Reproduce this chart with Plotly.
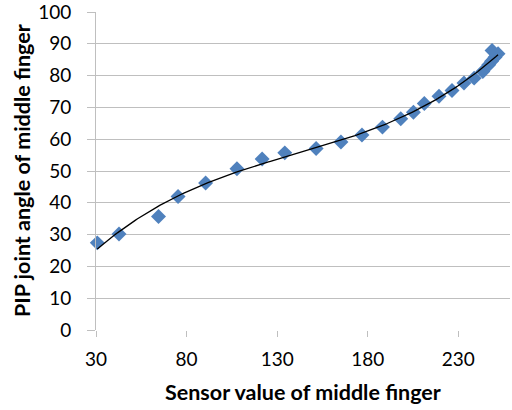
import numpy as np
import plotly.graph_objects as go

sensor = [30.7, 42.7, 64.5, 75.3, 90.5, 107.8, 121.7, 134.2, 151.5, 165.2, 176.8,
          188.1, 198.2, 205.2, 211.2, 219.3, 226.5, 233.1, 238.7, 243.5, 246.8,
          248.3, 250.2, 251.9, 248.6]
angle = [27.4, 30.2, 35.7, 42.0, 46.2, 50.7, 53.8, 55.7, 57.1, 59.1, 61.3,
         63.8, 66.4, 68.5, 71.2, 73.5, 75.3, 77.7, 79.2, 81.3, 83.4,
         84.5, 85.8, 86.9, 87.9]
x_ticks = [30, 80, 130, 180, 230]
y_ticks = [0, 10, 20, 30, 40, 50, 60, 70, 80, 90, 100]
x_title = "Sensor value of middle finger"
y_title = "PIP joint angle of middle finger"

# polynomial (order 3) trendline fitted to the data, like the spreadsheet's trendline
coef = np.polyfit(sensor, angle, 3)
xs = np.linspace(min(sensor), max(sensor), 200)
ys = np.polyval(coef, xs)

fig = go.Figure()
fig.add_trace(go.Scatter(x=sensor, y=angle, mode="markers", cliponaxis=False,
                         marker=dict(symbol="diamond", size=11.5, color="#4F81BD"),
                         showlegend=False))
fig.add_trace(go.Scatter(x=xs, y=ys, mode="lines", cliponaxis=False,
                         line=dict(color="black", width=1.3), showlegend=False))

font_family = "Lato, 'Open Sans', sans-serif"
fig.update_layout(
    width=512, height=410,
    margin=dict(l=96, r=2, t=12, b=80),
    plot_bgcolor="white", paper_bgcolor="white",
    font=dict(family=font_family, size=19, color="black"),
)
fig.update_xaxes(range=[30, 258.5], tickvals=x_ticks, showgrid=False,
                 zeroline=False, showline=False, automargin=False,
                 ticks="outside", ticklen=6, tickcolor="#BFBFBF",
                 ticklabelstandoff=6, ticklabeloverflow="allow",
                 tickfont=dict(size=19))
fig.update_yaxes(range=[0, 100], tickvals=y_ticks, showgrid=True,
                 gridcolor="#BFBFBF", gridwidth=1, zeroline=False,
                 showline=True, linecolor="#BFBFBF", linewidth=1,
                 automargin=False,
                 ticks="outside", ticklen=8, tickcolor="#BFBFBF",
                 ticklabelstandoff=12, ticklabeloverflow="allow",
                 tickfont=dict(size=19))
fig.add_annotation(text="<b>" + x_title + "</b>", xref="paper", yref="paper",
                   x=0.5, y=0, yshift=-62, showarrow=False,
                   xanchor="center", yanchor="middle",
                   font=dict(size=21.5))
fig.add_annotation(text="<b>" + y_title + "</b>", xref="paper", yref="paper",
                   x=0, y=0.5, xshift=-74, textangle=-90, showarrow=False,
                   xanchor="center", yanchor="middle",
                   font=dict(size=21.5))
fig.write_html("out.html", config={"displayModeBar": False},
               post_script="document.body.style.margin='0';document.body.style.overflow='hidden';")
